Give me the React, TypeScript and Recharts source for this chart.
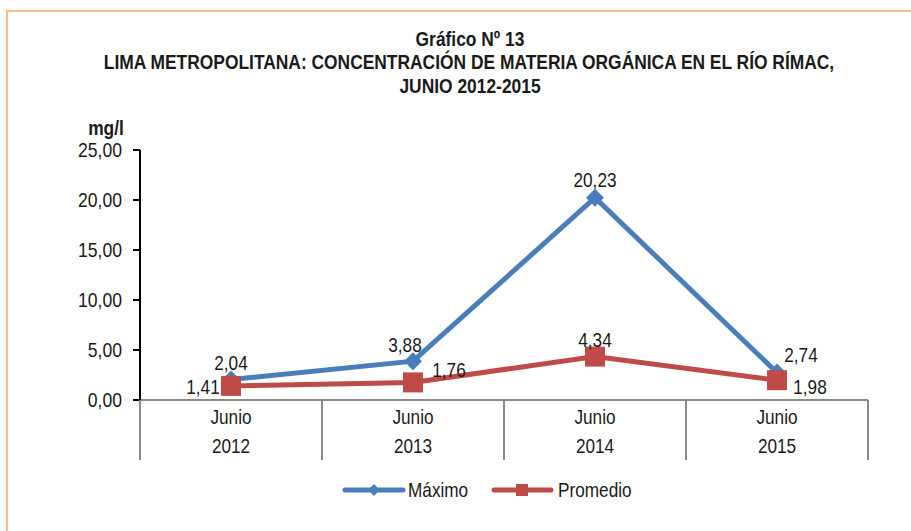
import React from 'react';
import { LineChart, Line, XAxis, YAxis, LabelList, Legend } from 'recharts';

const years = ['2012', '2013', '2014', '2015'];
const monthLabel = 'Junio';
const maximo = [2.04, 3.88, 20.23, 2.74];
const promedio = [1.41, 1.76, 4.34, 1.98];
const yTicks = [0, 5, 10, 15, 20, 25];
const titleLines = [
  'Gráfico Nº 13',
  'LIMA METROPOLITANA: CONCENTRACIÓN DE MATERIA ORGÁNICA EN EL RÍO RÍMAC,',
  'JUNIO 2012-2015',
];

const data = years.map((year, i) => ({ year, maximo: maximo[i], promedio: promedio[i] }));

const BLUE = '#4a7ebb';
const RED = '#be4b48';
const AXIS_GRAY = '#8a8a8a';
const INK = '#1a1a1a';
const FONT = '"Liberation Sans", Arial, sans-serif';
const SX = 0.86; // squeeze Liberation Sans to look like Arial Narrow
const HALF_BAND = 91;

const fmt = (v: number) => v.toFixed(2).replace('.', ',');

// where Excel dropped each data label, relative to its point
const maxLabelPos = [{ dx: 0, dy: -17 }, { dx: -8, dy: -16 }, { dx: 0, dy: -18 }, { dx: 24, dy: -18 }];
const promLabelPos = [{ dx: -28, dy: 1 }, { dx: 36, dy: -12 }, { dx: 0, dy: -17 }, { dx: 33, dy: 7 }];

const NText = ({ x, y, anchor = 'middle', size = 20, bold = false, sx = SX, children }: any) => (
  <text
    transform={`translate(${x},${y}) scale(${sx},1)`}
    textAnchor={anchor}
    dominantBaseline="central"
    fontSize={size}
    fontWeight={bold ? 'bold' : 'normal'}
    fontFamily={FONT}
    fill={INK}
  >
    {children}
  </text>
);

const Diamond = ({ cx, cy, fill, r = 9 }: any) => (
  <path d={`M${cx},${cy - r} L${cx + r},${cy} L${cx},${cy + r} L${cx - r},${cy} Z`} fill={fill} />
);

const Square = ({ cx, cy, fill, s = 10 }: any) => (
  <rect x={cx - s} y={cy - s} width={s * 2} height={s * 2} fill={fill} />
);

const makeLabel = (pos: { dx: number; dy: number }[]) => (props: any) => {
  const { x, y, value, index } = props;
  const p = pos[index] || { dx: 0, dy: -15 };
  return (
    <NText x={x + p.dx} y={y + p.dy}>
      {fmt(value)}
    </NText>
  );
};

const CategoryTick = (props: any) => {
  const { x, y, payload, index } = props;
  const last = index === years.length - 1;
  return (
    <g>
      <line x1={x - HALF_BAND} y1={y} x2={x - HALF_BAND} y2={y + 60} stroke={AXIS_GRAY} strokeWidth={2} />
      {last && (
        <line x1={x + HALF_BAND} y1={y} x2={x + HALF_BAND} y2={y + 60} stroke={AXIS_GRAY} strokeWidth={2} />
      )}
      <NText x={x} y={y + 17}>{monthLabel}</NText>
      <NText x={x} y={y + 46}>{payload.value}</NText>
    </g>
  );
};

const ValueTick = (props: any) => {
  const { x, y, payload } = props;
  return (
    <NText x={x} y={y} anchor="end" sx={0.88}>
      {fmt(payload.value)}
    </NText>
  );
};

const LegendBox = () => (
  <svg width={911} height={30} style={{ display: 'block' }}>
    <line x1={345} y1={15} x2={403} y2={15} stroke={BLUE} strokeWidth={5} strokeLinecap="round" />
    <Diamond cx={374} cy={15} r={6} fill={BLUE} />
    <NText x={408} y={15} anchor="start">Máximo</NText>
    <line x1={494} y1={15} x2={551} y2={15} stroke={RED} strokeWidth={5} strokeLinecap="round" />
    <Square cx={522} cy={15} s={6} fill={RED} />
    <NText x={558} y={15} anchor="start">Promedio</NText>
  </svg>
);

export default function App() {
  return (
    <div style={{ position: 'fixed', left: 0, top: 0, width: 911, height: 531, background: '#fff', overflow: 'hidden' }}>
      <div style={{ position: 'absolute', left: 6, top: 10, width: 1000, height: 1000, borderLeft: '2px solid #fbbb8b', borderTop: '2px solid #fbbb8b' }} />
      <svg width={911} height={140} style={{ position: 'absolute', left: 0, top: 0 }}>
        <NText x={470} y={39} bold sx={0.87}>{titleLines[0]}</NText>
        <NText x={469} y={62} bold sx={0.87}>{titleLines[1]}</NText>
        <NText x={470} y={86} bold sx={0.87}>{titleLines[2]}</NText>
        <NText x={106} y={128} bold sx={0.87}>mg/l</NText>
      </svg>
      <LineChart
        width={911}
        height={531}
        data={data}
        margin={{ top: 150, right: 43, bottom: 71, left: 80 }}
        style={{ position: 'absolute', left: 0, top: 0 }}
      >
        <XAxis
          dataKey="year"
          padding={{ left: HALF_BAND, right: HALF_BAND }}
          axisLine={{ stroke: AXIS_GRAY, strokeWidth: 2 }}
          tickLine={false}
          tickSize={0}
          tickMargin={0}
          tick={<CategoryTick />}
          interval={0}
          height={60}
        />
        <YAxis
          width={60}
          domain={[0, 25]}
          ticks={yTicks}
          interval={0}
          axisLine={{ stroke: '#000', strokeWidth: 2 }}
          tickLine={{ stroke: '#000', strokeWidth: 2 }}
          tickSize={7}
          tickMargin={11}
          tick={<ValueTick />}
        />
        <Legend
          verticalAlign="middle"
          align="center"
          content={<LegendBox />}
          wrapperStyle={{ position: 'absolute', top: 475, left: 0, width: 911 }}
        />
        <Line
          type="linear"
          dataKey="maximo"
          name="Máximo"
          stroke={BLUE}
          strokeWidth={5}
          isAnimationActive={false}
          dot={(p: any) => <Diamond key={`d-${p.index}`} cx={p.cx} cy={p.cy} fill={BLUE} />}
          activeDot={false}
        >
          <LabelList dataKey="maximo" content={makeLabel(maxLabelPos)} />
        </Line>
        <Line
          type="linear"
          dataKey="promedio"
          name="Promedio"
          stroke={RED}
          strokeWidth={5}
          isAnimationActive={false}
          dot={(p: any) => <Square key={`s-${p.index}`} cx={p.cx} cy={p.cy} fill={RED} />}
          activeDot={false}
        >
          <LabelList dataKey="promedio" content={makeLabel(promLabelPos)} />
        </Line>
      </LineChart>
    </div>
  );
}
